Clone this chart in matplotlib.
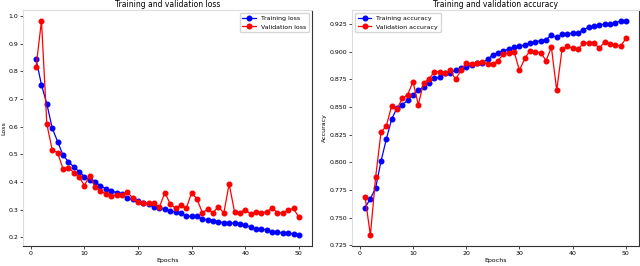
import matplotlib
matplotlib.use("Agg")
import matplotlib.pyplot as plt

epochs = list(range(1, 51))

train_loss = [0.843, 0.751, 0.682, 0.595, 0.546, 0.498, 0.473, 0.455, 0.437, 0.419,
              0.407, 0.398, 0.387, 0.375, 0.368, 0.361, 0.355, 0.341, 0.337, 0.330,
              0.323, 0.321, 0.311, 0.306, 0.301, 0.294, 0.292, 0.287, 0.277, 0.275,
              0.275, 0.265, 0.263, 0.260, 0.256, 0.253, 0.251, 0.251, 0.246, 0.244,
              0.237, 0.229, 0.229, 0.227, 0.219, 0.219, 0.215, 0.217, 0.210, 0.207]
val_loss = [0.817, 0.983, 0.609, 0.516, 0.506, 0.448, 0.452, 0.434, 0.419, 0.387,
            0.423, 0.383, 0.368, 0.356, 0.350, 0.352, 0.353, 0.363, 0.342, 0.327,
            0.323, 0.323, 0.323, 0.309, 0.361, 0.321, 0.304, 0.316, 0.304, 0.361,
            0.338, 0.289, 0.301, 0.289, 0.311, 0.287, 0.393, 0.292, 0.289, 0.299,
            0.284, 0.292, 0.289, 0.292, 0.306, 0.289, 0.287, 0.299, 0.304, 0.272]

train_acc = [0.759, 0.767, 0.777, 0.801, 0.821, 0.839, 0.849, 0.852, 0.856, 0.861,
             0.865, 0.868, 0.872, 0.876, 0.877, 0.881, 0.881, 0.883, 0.885, 0.886,
             0.888, 0.890, 0.890, 0.893, 0.897, 0.899, 0.901, 0.902, 0.904, 0.905,
             0.906, 0.908, 0.909, 0.910, 0.911, 0.915, 0.913, 0.916, 0.916, 0.917,
             0.917, 0.920, 0.922, 0.923, 0.924, 0.925, 0.925, 0.926, 0.928, 0.928]
val_acc = [0.769, 0.734, 0.787, 0.827, 0.833, 0.851, 0.848, 0.858, 0.861, 0.873,
           0.852, 0.872, 0.875, 0.882, 0.882, 0.881, 0.883, 0.875, 0.883, 0.890,
           0.889, 0.890, 0.891, 0.889, 0.889, 0.892, 0.898, 0.899, 0.900, 0.883,
           0.894, 0.901, 0.900, 0.899, 0.892, 0.904, 0.865, 0.902, 0.905, 0.903,
           0.902, 0.908, 0.908, 0.908, 0.903, 0.909, 0.907, 0.906, 0.905, 0.912]

fs = 4.5
fig = plt.figure(figsize=(6.4, 2.66), dpi=100)
ax1 = fig.add_axes([0.0359, 0.0752, 0.4516, 0.8872])
ax2 = fig.add_axes([0.55, 0.0752, 0.4484, 0.8872])

ax1.plot(epochs, train_loss, 'o-', color='blue', lw=0.9, ms=3.3, label='Training loss')
ax1.plot(epochs, val_loss, 'o-', color='red', lw=0.9, ms=3.3, label='Validation loss')
ax1.set_title('Training and validation loss', fontsize=5.5, pad=2)
ax1.set_xlabel('Epochs', fontsize=fs, labelpad=1.5)
ax1.set_ylabel('Loss', fontsize=fs, labelpad=1.5)
ax1.legend(loc='upper right', fontsize=fs, handlelength=2.2, borderpad=0.4)

ax2.plot(epochs, train_acc, 'o-', color='blue', lw=0.9, ms=3.3, label='Training accuracy')
ax2.plot(epochs, val_acc, 'o-', color='red', lw=0.9, ms=3.3, label='Validation accuracy')
ax2.set_title('Training and validation accuracy', fontsize=5.5, pad=2)
ax2.set_xlabel('Epochs', fontsize=fs, labelpad=1.5)
ax2.set_ylabel('Accuracy', fontsize=fs, labelpad=1.5)
ax2.legend(loc='upper left', fontsize=fs, handlelength=2.2, borderpad=0.4)

for ax in (ax1, ax2):
    ax.tick_params(labelsize=fs, length=2, width=0.5, pad=1.5)
    ax.spines['left'].set_color('#dddddd')
    ax.spines['top'].set_color('#dddddd')
    ax.spines['right'].set_color('#333333')
    ax.spines['bottom'].set_color('#333333')
    for s in ax.spines.values():
        s.set_linewidth(0.8)

fig.savefig('out.png', dpi=100)
